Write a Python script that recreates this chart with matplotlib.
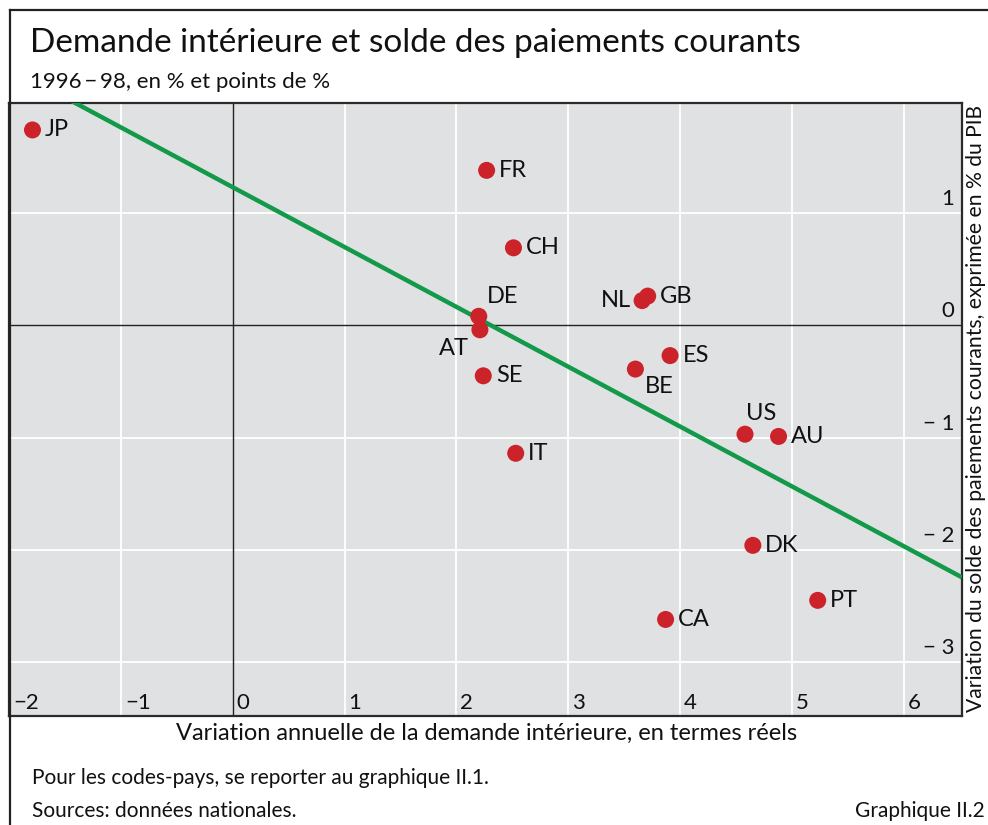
import matplotlib
matplotlib.use("Agg")
import matplotlib.pyplot as plt
import matplotlib.transforms as mtransforms
from matplotlib.lines import Line2D
import numpy as np

plt.rcParams['font.family'] = ['Lato', 'DejaVu Sans']

# ---- data ----
countries = ["JP", "FR", "CH", "DE", "AT", "SE", "IT", "NL", "GB", "ES", "BE", "US", "AU", "DK", "PT", "CA"]
demand = [-1.79, 2.27, 2.51, 2.20, 2.21, 2.24, 2.53, 3.66, 3.71, 3.91, 3.60, 4.58, 4.88, 4.65, 5.23, 3.87]
balance = [1.74, 1.38, 0.69, 0.08, -0.04, -0.45, -1.14, 0.22, 0.26, -0.27, -0.39, -0.97, -0.99, -1.96, -2.45, -2.62]
fit_intercept = 1.23
fit_slope = -0.533
xticks = [-2, -1, 0, 1, 2, 3, 4, 5, 6]
yticks = [-3, -2, -1, 0, 1]

# label placement (offset in points, ha, va)
label_pos = {
    "DE": (6, 7, "left", "bottom"),
    "AT": (-8, -6, "right", "top"),
    "NL": (-8, 0, "right", "center"),
    "BE": (7, -5, "left", "top"),
    "US": (12, 7, "center", "bottom"),
}

W, H = 988, 825
fig = plt.figure(figsize=(W / 100, H / 100), dpi=100)

# outer frame lines
fig.add_artist(Line2D([10 / W, 1.0], [1 - 10 / H, 1 - 10 / H], color="#222222", lw=1.6, transform=fig.transFigure))
fig.add_artist(Line2D([10 / W, 10 / W], [1 - 10 / H, 0], color="#222222", lw=1.6, transform=fig.transFigure))

ax_l, ax_r, ax_t, ax_b = 9, 962, 103, 716
ax = fig.add_axes([ax_l / W, 1 - ax_b / H, (ax_r - ax_l) / W, (ax_b - ax_t) / H])
ax.set_facecolor("#e0e1e3")
ax.set_xlim(-2.0, 6.52)
ax.set_ylim(-3.48, 1.98)
for s in ax.spines.values():
    s.set_color("#2a2a2a")
    s.set_linewidth(1.6)
ax.set_xticks([])
ax.set_yticks([])

for xv in xticks:
    if xv != 0:
        ax.axvline(xv, color="white", lw=1.3, zorder=1)
for yv in yticks:
    if yv != 0:
        ax.axhline(yv, color="white", lw=1.3, zorder=1)
ax.axvline(0, color="#222222", lw=1.0, zorder=2)
ax.axhline(0, color="#222222", lw=1.0, zorder=2)

# fit line
xl = np.array(ax.get_xlim())
ax.plot(xl, fit_intercept + fit_slope * xl, color="#12994a", lw=3.2, zorder=3, solid_capstyle="butt")

ax.scatter(demand, balance, s=150, color="#cc2229", edgecolors="none", zorder=4)
for c, x, y in zip(countries, demand, balance):
    dx, dy, ha, va = label_pos.get(c, (9, 0, "left", "center"))
    ax.annotate(c, (x, y), xytext=(dx, dy), textcoords="offset points", ha=ha, va=va,
                fontsize=17, color="#111111", zorder=5)

# tick labels inside plot
xtr = mtransforms.offset_copy(ax.get_xaxis_transform(), fig=fig, x=4, y=3, units="dots")
for xv in xticks:
    ax.text(xv, 0, str(xv).replace("-", "\u2212"), transform=xtr, ha="left", va="bottom",
            fontsize=16, color="#111111")
ytr = mtransforms.offset_copy(ax.get_yaxis_transform(), fig=fig, x=-8, y=4, units="dots")
for yv in yticks:
    ax.text(1, yv, str(yv).replace("-", "\u2212 "), transform=ytr, ha="right", va="bottom",
            fontsize=16, color="#111111")

# titles and labels
fig.text(30 / W, 1 - 43 / H, "Demande intérieure et solde des paiements courants", fontsize=24,
         ha="left", va="center", color="#111111")
fig.text(30 / W, 1 - 82 / H, "1996\u2009\u2212\u200998, en % et points de %", fontsize=16,
         ha="left", va="center", color="#111111")
fig.text(487 / W, 1 - 733 / H, "Variation annuelle de la demande intérieure, en termes réels", fontsize=17,
         ha="center", va="center", color="#111111")
fig.text(976 / W, 1 - 408 / H, "Variation du solde des paiements courants, exprimée en % du PIB", fontsize=15.2,
         ha="center", va="center", rotation=90, color="#111111")
fig.text(32 / W, 1 - 778 / H, "Pour les codes-pays, se reporter au graphique II.1.", fontsize=15,
         ha="left", va="center", color="#111111")
fig.text(32 / W, 1 - 811 / H, "Sources: données nationales.", fontsize=15,
         ha="left", va="center", color="#111111")
fig.text(985 / W, 1 - 811 / H, "Graphique II.2", fontsize=15,
         ha="right", va="center", color="#111111")

fig.savefig("out.png", dpi=100)
